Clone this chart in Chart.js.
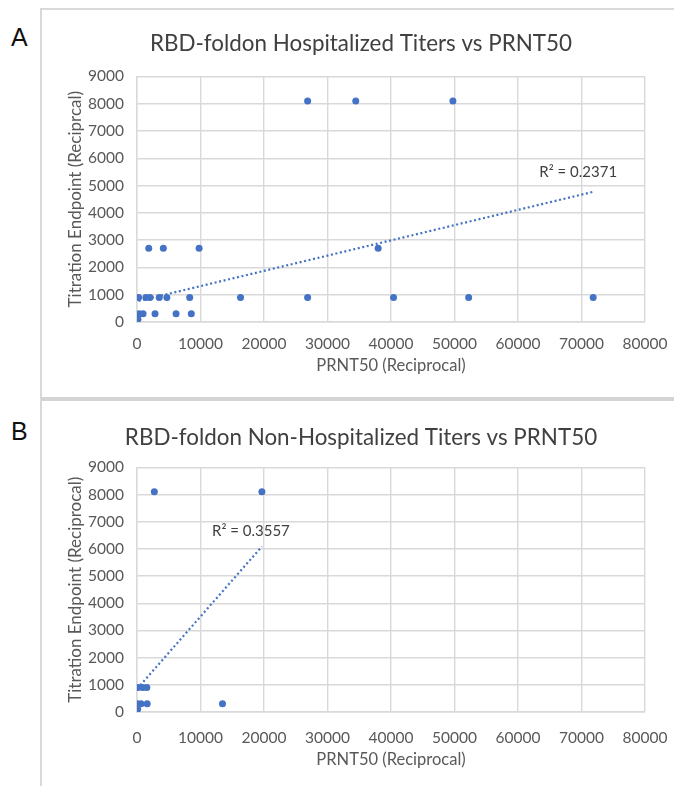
<!DOCTYPE html>
<html>
<head>
<meta charset="utf-8">
<script src="https://cdn.jsdelivr.net/npm/chart.js@4.4.1/dist/chart.umd.min.js"></script>
<style>
  body { margin: 0; width: 674px; height: 786px; overflow: hidden; background: #fff; position: relative; }
  .box { position: absolute; left: 40px; width: 700px; border-left: 2px solid #d9d9d9; border-top: 2px solid #d9d9d9; }
  #boxA { top: 8px; height: 392px; }
  #boxB { top: 397px; height: 400px; border-top: 4px solid #d4d4d4; }
  .tag { position: absolute; left: 11px; font: 25px "Liberation Sans", Arial, sans-serif; color: #111; }
  .wrap { position: absolute; left: 42px; }
  #wrapA { top: 10px; }
  #wrapB { top: 401px; }
</style>
</head>
<body>
<div class="box" id="boxA"></div>
<div class="box" id="boxB"></div>
<div class="tag" style="top:23px">A</div>
<div class="tag" style="top:417px">B</div>
<div class="wrap" id="wrapA"><canvas id="chartA" width="658" height="389"></canvas></div>
<div class="wrap" id="wrapB"><canvas id="chartB" width="658" height="385"></canvas></div>
<script>
// DATA - hospitalized (panel A)
const hospPrnt = [26870, 34450, 49750,
  1850, 4150, 9780, 37980,
  250, 1400, 2050, 3500, 4700, 8300, 16300, 26870, 40400, 52230, 71840,
  350, 950, 2840, 6150, 8550,
  150];
const hospTiter = [8100, 8100, 8100,
  2700, 2700, 2700, 2700,
  900, 900, 900, 900, 900, 900, 900, 900, 900, 900, 900,
  300, 300, 300, 300, 300,
  100];
const hospTrendX = [250, 71840];
const hospTrendY = [770, 4770];

// DATA - non-hospitalized (panel B)
const nonPrnt = [2730, 19670, 150, 900, 1550, 50, 630, 1600, 13460, 100];
const nonTiter = [8100, 8100, 900, 900, 900, 300, 300, 300, 300, 100];
const nonTrendX = [50, 19670];
const nonTrendY = [860, 6090];

// AXES
const xTicks = [0, 10000, 20000, 30000, 40000, 50000, 60000, 70000, 80000];
const yTicks = [0, 1000, 2000, 3000, 4000, 5000, 6000, 7000, 8000, 9000];

const BLUE = "#4472C4";
const GRID = "#d9d9d9";
Chart.defaults.font.family = "Lato, 'Open Sans', sans-serif";
Chart.defaults.color = "#595959";

// R² label next to the end of the trendline
const r2Label = {
  id: "r2Label",
  afterDatasetsDraw(chart, args, opts) {
    const meta = chart.getDatasetMeta(1);
    const end = meta.data[meta.data.length - 1];
    const ctx = chart.ctx;
    ctx.save();
    ctx.font = "15px Lato";
    ctx.fillStyle = "#404040";
    ctx.textAlign = "center";
    ctx.textBaseline = "middle";
    ctx.fillText(opts.text, end.x + opts.dx, end.y + opts.dy);
    ctx.restore();
  },
};

const zip = (xs, ys) => xs.map((x, i) => ({ x: x, y: ys[i] }));

function makeChart(id, o) {
  return new Chart(document.getElementById(id), {
    type: "scatter",
    data: {
      datasets: [
        {
          data: zip(o.xs, o.ys),
          backgroundColor: BLUE,
          borderColor: BLUE,
          pointRadius: 3.5,
          borderWidth: 0,
        },
        {
          type: "line",
          data: zip(o.tx, o.ty),
          borderColor: BLUE,
          borderWidth: 2.2,
          borderDash: [2, 2.6],
          pointRadius: 0,
          fill: false,
        },
      ],
    },
    options: {
      responsive: false,
      animation: false,
      // left padding shifts the chart title so it is centred like the original
      layout: { padding: { left: 35, right: 55, top: 0, bottom: 0 } },
      scales: {
        x: {
          type: "linear",
          min: xTicks[0],
          max: xTicks[xTicks.length - 1],
          afterBuildTicks: (s) => { s.ticks = xTicks.map((v) => ({ value: v })); },
          afterFit: (s) => { s.height = o.xh; },
          ticks: { callback: (v) => String(v), font: { size: 15.5 }, padding: o.xpad, maxRotation: 0 },
          grid: { color: GRID, lineWidth: 1.4, drawTicks: false },
          border: { color: GRID, width: 1.4 },
          title: {
            display: true,
            text: "PRNT50 (Reciprocal)",
            font: { size: 16.5 },
            padding: { top: 0, bottom: o.xtb },
          },
        },
        y: {
          min: yTicks[0],
          max: yTicks[yTicks.length - 1],
          afterBuildTicks: (s) => { s.ticks = yTicks.map((v) => ({ value: v })); },
          afterFit: (s) => { s.width = 60; },
          ticks: { callback: (v) => String(v), font: { size: 15.5 }, padding: 13 },
          grid: { color: GRID, lineWidth: 1.4, drawTicks: false },
          border: { color: GRID, width: 1.4 },
          title: {
            display: true,
            text: o.ytitle,
            font: { size: 17 },
            padding: { top: -12, bottom: 0 },
          },
        },
      },
      plugins: {
        legend: { display: false },
        tooltip: { enabled: false },
        title: {
          display: true,
          text: o.title,
          color: "#404040",
          font: { size: 22.4, weight: "normal" },
          padding: { top: o.tt, bottom: o.tb },
        },
        r2Label: { text: o.r2, dx: o.rdx, dy: o.rdy },
      },
    },
    plugins: [r2Label],
  });
}

makeChart("chartA", {
  xs: hospPrnt, ys: hospTiter, tx: hospTrendX, ty: hospTrendY,
  title: "RBD-foldon Hospitalized Titers vs PRNT50",
  ytitle: "Titration Endpoint (Reciprcal)",
  r2: "R² = 0.2371", rdx: -15, rdy: -20,
  tt: 20, tb: 19.5, xh: 77, xpad: 13, xtb: 23,
});

makeChart("chartB", {
  xs: nonPrnt, ys: nonTiter, tx: nonTrendX, ty: nonTrendY,
  title: "RBD-foldon Non-Hospitalized Titers vs PRNT50",
  ytitle: "Titration Endpoint (Reciprocal)",
  r2: "R² = 0.3557", rdx: -11, rdy: -15,
  tt: 23, tb: 16.5, xh: 74, xpad: 17, xtb: 16,
});
</script>
</body>
</html>
